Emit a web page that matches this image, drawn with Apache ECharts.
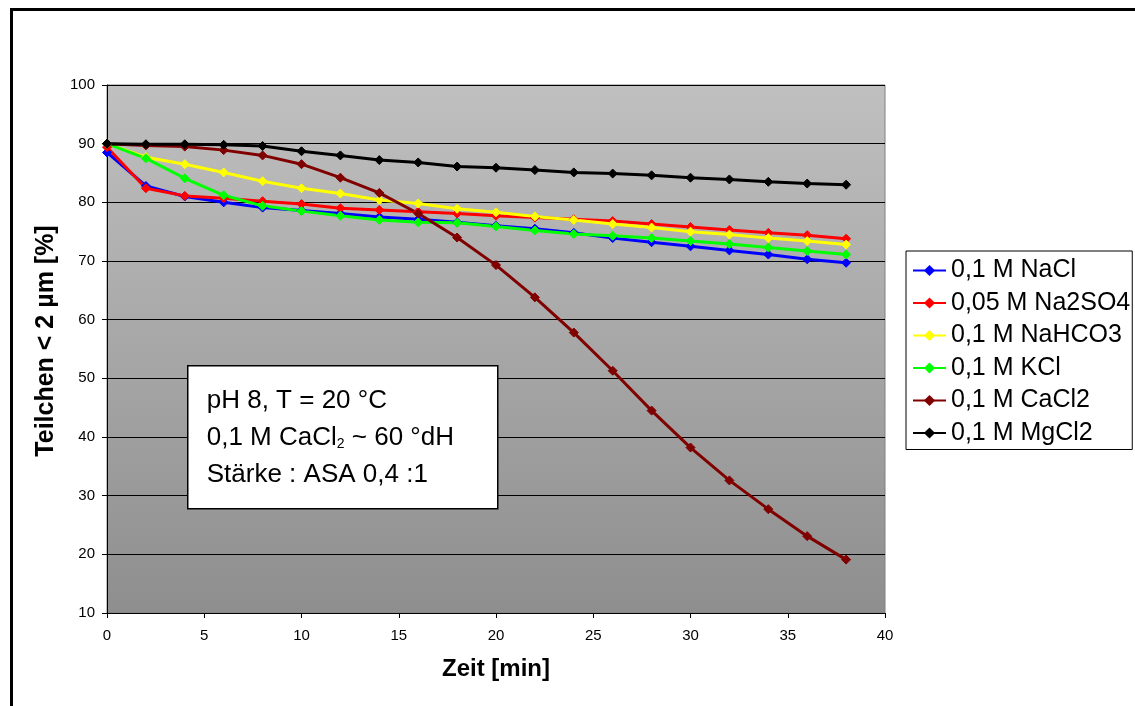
<!DOCTYPE html>
<html>
<head>
<meta charset="utf-8">
<script src="https://cdn.jsdelivr.net/npm/echarts@6/dist/echarts.min.js"></script>
<style>
html,body{margin:0;padding:0;background:#fff;}
#c{width:1135px;height:706px;}
</style>
</head>
<body>
<div id="c"></div>
<script>
const times = [0,2,4,6,8,10,12,14,16,18,20,22,24,26,28,30,32,34,36,38];
const seriesNames = ['0,1 M NaCl','0,05 M Na2SO4','0,1 M NaHCO3','0,1 M KCl','0,1 M CaCl2','0,1 M MgCl2'];
const nacl   = [88.5,82.8,81.0,80.0,79.1,78.6,78.1,77.5,77.1,76.6,76.0,75.5,74.8,73.9,73.2,72.5,71.8,71.1,70.3,69.7];
const na2so4 = [89.4,82.4,81.1,80.7,80.2,79.7,79.0,78.7,78.4,78.1,77.7,77.4,77.1,76.8,76.3,75.8,75.3,74.8,74.4,73.8];
const nahco3 = [90.0,87.7,86.5,85.1,83.6,82.4,81.5,80.4,79.8,78.9,78.3,77.6,77.0,76.3,75.7,75.0,74.5,73.9,73.4,72.8];
const kcl    = [90.0,87.5,84.1,81.2,79.4,78.5,77.7,77.0,76.6,76.5,75.9,75.2,74.6,74.3,73.9,73.4,72.9,72.3,71.7,71.1];
const cacl2  = [90.0,89.7,89.5,88.9,88.0,86.5,84.2,81.6,78.1,74.0,69.3,63.8,57.8,51.3,44.5,38.2,32.6,27.7,23.1,19.1];
const mgcl2  = [90.0,89.9,89.9,89.8,89.6,88.7,88.0,87.2,86.8,86.1,85.9,85.5,85.1,84.9,84.6,84.2,83.9,83.5,83.2,83.0];
const xTicks = [0,5,10,15,20,25,30,35,40];
const yTicks = [10,20,30,40,50,60,70,80,90,100];
const colors = ['#0000ff','#ff0000','#ffff00','#00ff00','#800000','#000000'];
const allData = [nacl, na2so4, nahco3, kcl, cacl2, mgcl2];
const noteLines = ['pH 8, T = 20 °C', '0,1 M CaCl', '2', ' ~ 60 °dH', 'Stärke : ASA 0,4 :1'];

const FONT = '"Liberation Sans", Arial, sans-serif';

const chart = echarts.init(document.getElementById('c'), null, {renderer:'canvas'});
const option = {
  animation: false,
  backgroundColor: '#ffffff',
  textStyle: {fontFamily: FONT},
  grid: {
    left: 107, top: 85, right: 250, bottom: 93,
    show: true,
    borderColor: '#808080',
    borderWidth: 1,
    backgroundColor: {type:'linear', x:0, y:0, x2:0, y2:1,
      colorStops:[{offset:0, color:'#c0c0c0'},{offset:1, color:'#8e8e8e'}]}
  },
  xAxis: {
    type: 'value', min: xTicks[0], max: xTicks[xTicks.length-1], interval: 5,
    name: 'Zeit [min]', nameLocation: 'middle', nameGap: 44,
    nameTextStyle: {fontFamily: FONT, fontSize: 24, fontWeight: 'bold', color:'#000'},
    axisLine: {show:true, onZero:false, lineStyle:{color:'#000', width:1}},
    axisTick: {show:true, inside:false, length:5, lineStyle:{color:'#000'}},
    axisLabel: {fontFamily: FONT, fontSize: 15, color:'#000', margin: 15},
    splitLine: {show:false}
  },
  yAxis: {
    type: 'value', min: yTicks[0], max: yTicks[yTicks.length-1], interval: 10,
    name: 'Teilchen < 2 µm [%]', nameLocation: 'middle', nameGap: 44, nameRotate: 90,
    nameTextStyle: {fontFamily: FONT, fontSize: 25, fontWeight: 'bold', color:'#000', padding:[0,0,0,16]},
    axisLine: {show:true, onZero:false, lineStyle:{color:'#000', width:1}},
    axisTick: {show:true, inside:false, length:5, lineStyle:{color:'#000'}},
    axisLabel: {fontFamily: FONT, fontSize: 15, color:'#000', margin: 12},
    splitLine: {show:true, lineStyle:{color:'#000', width:1}}
  },
  legend: {
    orient: 'vertical', left: 906, top: 251,
    padding: [7, 2, 4, 6],
    borderColor: '#000', borderWidth: 1, backgroundColor:'#fff',
    itemWidth: 33, itemHeight: 14, itemGap: 7.5,
    textStyle: {fontFamily: FONT, fontSize: 25, lineHeight: 24, color:'#000'},
    data: seriesNames
  },
  graphic: [
    {type:'rect', left: 9, top: 7, shape:{width: 1140, height: 720},
     style:{fill:'none', stroke:'#000', lineWidth:3}, silent:true, z: 100},
    {type:'group', left: 187, top: 365, z: 50, children: [
      {type:'rect', z: 50, shape:{x:0,y:0,width:310,height:143},
       style:{fill:'#fff', stroke:'#000', lineWidth:1.5}},
      {type:'text', z: 51, x: 19, y: 35, style:{text: noteLines[0], font:'26px ' + FONT, fill:'#000', verticalAlign:'middle'}},
      {type:'text', z: 51, x: 19, y: 72, style:{
        text:'{n|' + noteLines[1] + '}{s|' + noteLines[2] + '}{n|' + noteLines[3] + '}',
        verticalAlign:'middle',
        rich:{n:{fontSize:26, fontFamily:FONT, color:'#000', lineHeight:26},
              s:{fontSize:14, fontFamily:FONT, color:'#000', lineHeight:12, verticalAlign:'bottom'}},
        fill:'#000'}},
      {type:'text', z: 51, x: 19, y: 109, style:{text: noteLines[4], font:'26px ' + FONT, fill:'#000', verticalAlign:'middle'}}
    ]}
  ],
  series: seriesNames.map((name, i) => ({
    name: name,
    type: 'line',
    data: times.map((t, j) => [t, allData[i][j]]),
    symbol: 'diamond',
    symbolSize: 9,
    showSymbol: true,
    lineStyle: {color: colors[i], width: 3},
    itemStyle: {color: colors[i], borderColor: colors[i]},
    emphasis: {disabled: true}
  }))
};
chart.setOption(option);
</script>
</body>
</html>
